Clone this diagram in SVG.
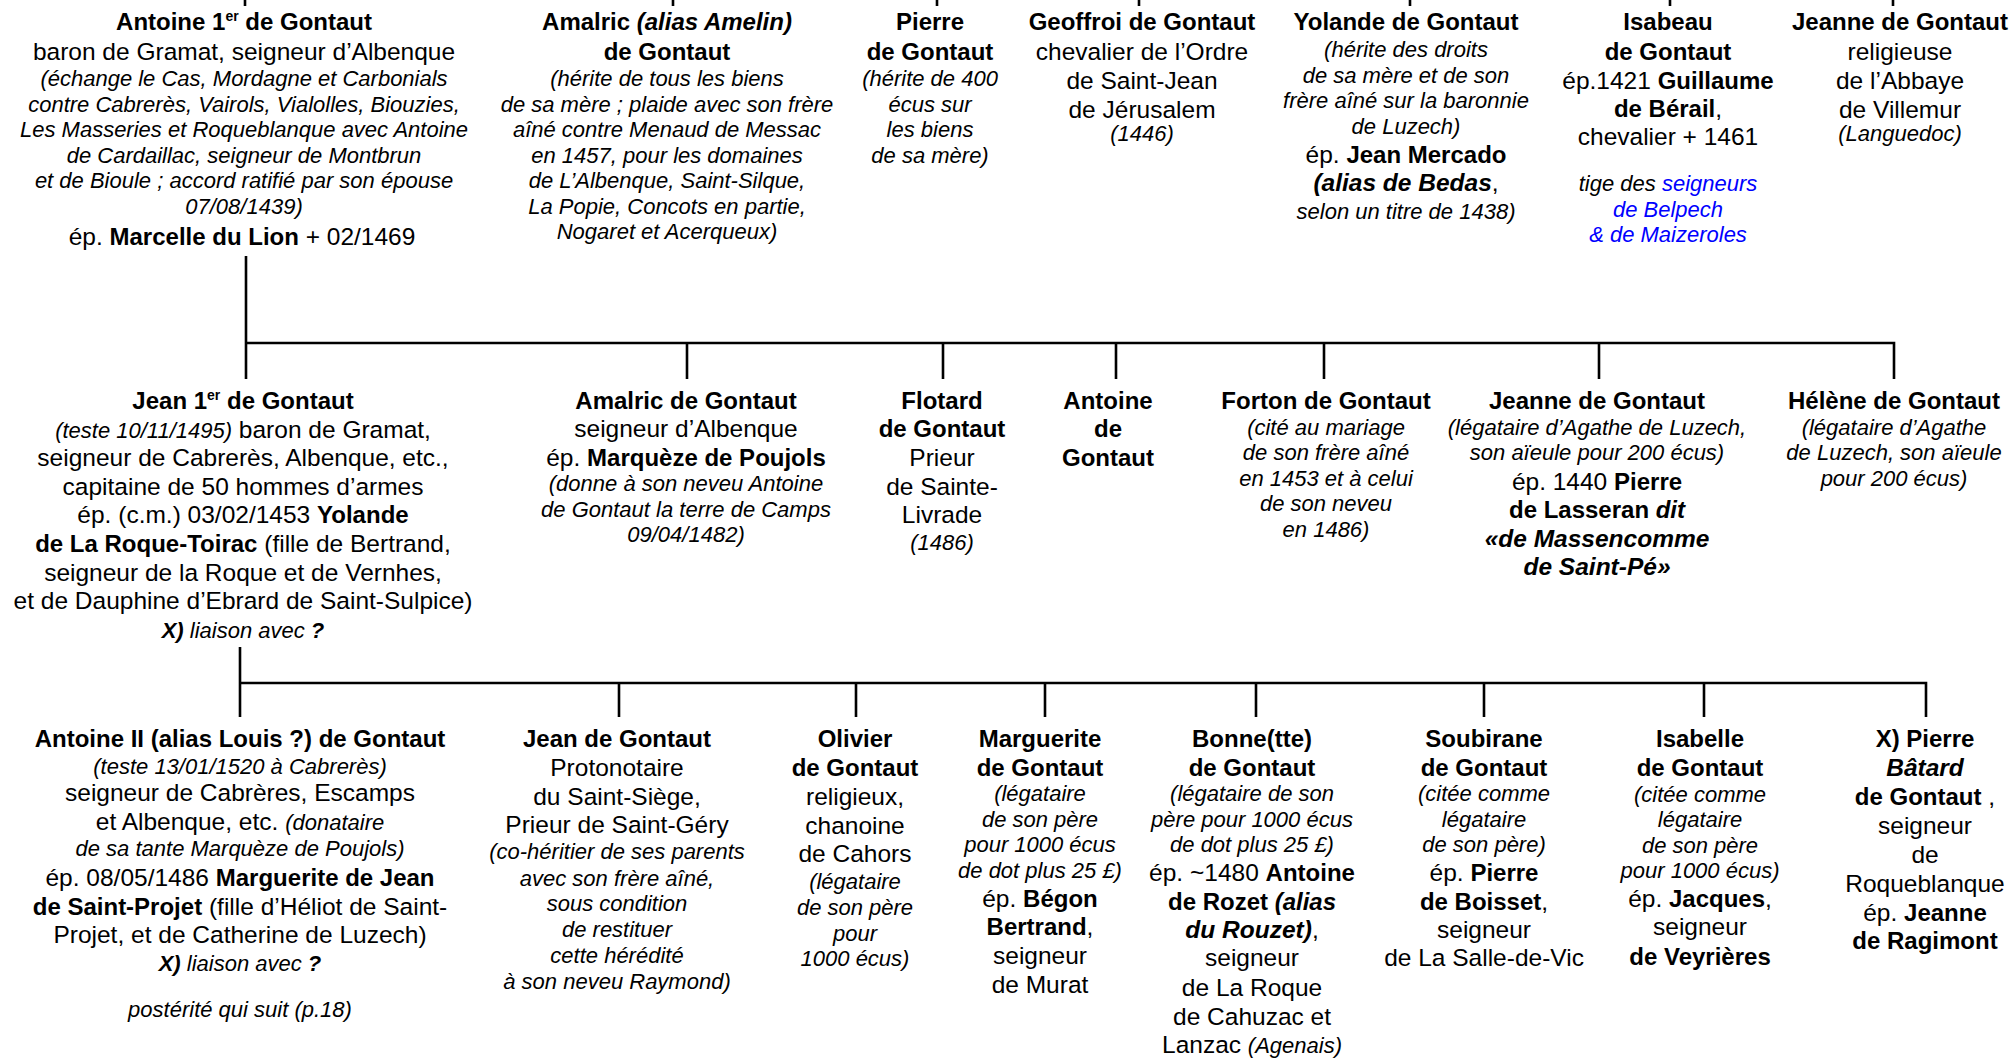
<svg xmlns="http://www.w3.org/2000/svg" width="2013" height="1058" viewBox="0 0 2013 1058">
<style>
text{font-family:"Liberation Sans",Arial,sans-serif;font-size:24.5px;text-anchor:middle;fill:#000}
.b{font-weight:700;font-size:24px}
.i{font-style:italic;font-size:22px}
.bi{font-weight:700;font-style:italic}
.blue{fill:#0000ff}
</style>
<rect width="2013" height="1058" fill="#fff"/>
<g id="connectors" stroke="#000" stroke-width="2.6" fill="none">
<path d="M245 0V6M673 0V6M937 0V6M1139 0V6M1410 0V6M1670 0V6M1893 0V6"/>
<path d="M246 256V379M246 343H1894V379M687 343V379M943 343V379M1116 343V379M1324 343V379M1599 343V379"/>
<path d="M240 647V717M240 683H1926V717M619 683V717M856 683V717M1045 683V717M1256 683V717M1484 683V717M1704 683V717"/>
</g>
<g id="n-antoine1" transform="translate(244 0)">
<text class="b" y="30">Antoine 1<tspan font-size="14" dy="-9">er</tspan><tspan dy="9"> de Gontaut</tspan></text>
<text y="60">baron de Gramat, seigneur d’Albenque</text>
<text class="i" y="86">(échange le Cas, Mordagne et Carbonials</text>
<text class="i" y="112">contre Cabrerès, Vairols, Vialolles, Biouzies,</text>
<text class="i" y="137">Les Masseries et Roqueblanque avec Antoine</text>
<text class="i" y="163">de Cardaillac, seigneur de Montbrun</text>
<text class="i" y="188">et de Bioule ; accord ratifié par son épouse</text>
<text class="i" y="214">07/08/1439)</text>
<text x="-2" y="245">ép. <tspan class="b">Marcelle du Lion</tspan> + 02/1469</text>
</g>
<g id="n-amalric-amelin" transform="translate(667 0)">
<text class="b" y="30">Amalric <tspan class="bi">(alias Amelin)</tspan></text>
<text class="b" y="60">de Gontaut</text>
<text class="i" y="86">(hérite de tous les biens</text>
<text class="i" y="112">de sa mère ; plaide avec son frère</text>
<text class="i" y="137">aîné contre Menaud de Messac</text>
<text class="i" y="163">en 1457, pour les domaines</text>
<text class="i" y="188">de L’Albenque, Saint-Silque,</text>
<text class="i" y="214">La Popie, Concots en partie,</text>
<text class="i" y="239">Nogaret et Acerqueux)</text>
</g>
<g id="n-pierre1" transform="translate(930 0)">
<text class="b" y="30">Pierre</text>
<text class="b" y="60">de Gontaut</text>
<text class="i" y="86">(hérite de 400</text>
<text class="i" y="112">écus sur</text>
<text class="i" y="137">les biens</text>
<text class="i" y="163">de sa mère)</text>
</g>
<g id="n-geoffroi" transform="translate(1142 0)">
<text class="b" y="30">Geoffroi de Gontaut</text>
<text y="60">chevalier de l’Ordre</text>
<text y="89">de Saint-Jean</text>
<text y="118">de Jérusalem</text>
<text class="i" y="141">(1446)</text>
</g>
<g id="n-yolande" transform="translate(1406 0)">
<text class="b" y="30">Yolande de Gontaut</text>
<text class="i" y="57">(hérite des droits</text>
<text class="i" y="83">de sa mère et de son</text>
<text class="i" y="108">frère aîné sur la baronnie</text>
<text class="i" y="134">de Luzech)</text>
<text y="163">ép. <tspan class="b">Jean Mercado</tspan></text>
<text y="191"><tspan class="bi">(alias de Bedas</tspan>,</text>
<text class="i" y="219">selon un titre de 1438)</text>
</g>
<g id="n-isabeau" transform="translate(1668 0)">
<text class="b" y="30">Isabeau</text>
<text class="b" y="60">de Gontaut</text>
<text y="89">ép.1421 <tspan class="b">Guillaume</tspan></text>
<text y="117"><tspan class="b">de Bérail</tspan>,</text>
<text y="145">chevalier + 1461</text>
<text class="i" y="191">tige des <tspan class="blue">seigneurs</tspan></text>
<text class="i blue" y="217">de Belpech</text>
<text class="i blue" y="242">&amp; de Maizeroles</text>
</g>
<g id="n-jeanne-religieuse" transform="translate(1900 0)">
<text class="b" y="30">Jeanne de Gontaut</text>
<text y="60">religieuse</text>
<text y="89">de l’Abbaye</text>
<text y="118">de Villemur</text>
<text class="i" y="141">(Languedoc)</text>
</g>
<g id="n-jean1" transform="translate(243 0)">
<text class="b" y="409">Jean 1<tspan font-size="14" dy="-9">er</tspan><tspan dy="9"> de Gontaut</tspan></text>
<text y="438"><tspan class="i">(teste 10/11/1495)</tspan> baron de Gramat,</text>
<text y="466">seigneur de Cabrerès, Albenque, etc.,</text>
<text y="495">capitaine de 50 hommes d’armes</text>
<text y="523">ép. (c.m.) 03/02/1453 <tspan class="b">Yolande</tspan></text>
<text y="552"><tspan class="b">de La Roque-Toirac</tspan> (fille de Bertrand,</text>
<text y="581">seigneur de la Roque et de Vernhes,</text>
<text y="609">et de Dauphine d’Ebrard de Saint-Sulpice)</text>
<text class="i" y="638"><tspan class="bi">X)</tspan> liaison avec <tspan class="bi">?</tspan></text>
</g>
<g id="n-amalric" transform="translate(686 0)">
<text class="b" y="409">Amalric de Gontaut</text>
<text y="437">seigneur d’Albenque</text>
<text y="466">ép. <tspan class="b">Marquèze de Poujols</tspan></text>
<text class="i" y="491">(donne à son neveu Antoine</text>
<text class="i" y="517">de Gontaut la terre de Camps</text>
<text class="i" y="542">09/04/1482)</text>
</g>
<g id="n-flotard" transform="translate(942 0)">
<text class="b" y="409">Flotard</text>
<text class="b" y="437">de Gontaut</text>
<text y="466">Prieur</text>
<text y="495">de Sainte-</text>
<text y="523">Livrade</text>
<text class="i" y="550">(1486)</text>
</g>
<g id="n-antoine" transform="translate(1108 0)">
<text class="b" y="409">Antoine</text>
<text class="b" y="437">de</text>
<text class="b" y="466">Gontaut</text>
</g>
<g id="n-forton" transform="translate(1326 0)">
<text class="b" y="409">Forton de Gontaut</text>
<text class="i" y="435">(cité au mariage</text>
<text class="i" y="460">de son frère aîné</text>
<text class="i" y="486">en 1453 et à celui</text>
<text class="i" y="511">de son neveu</text>
<text class="i" y="537">en 1486)</text>
</g>
<g id="n-jeanne" transform="translate(1597 0)">
<text class="b" y="409">Jeanne de Gontaut</text>
<text class="i" y="435">(légataire d’Agathe de Luzech,</text>
<text class="i" y="460">son aïeule pour 200 écus)</text>
<text y="490">ép. 1440 <tspan class="b">Pierre</tspan></text>
<text class="b" y="518">de Lasseran <tspan class="bi">dit</tspan></text>
<text class="bi" y="547">«de Massencomme</text>
<text class="bi" y="575">de Saint-Pé»</text>
</g>
<g id="n-helene" transform="translate(1894 0)">
<text class="b" y="409">Hélène de Gontaut</text>
<text class="i" y="435">(légataire d’Agathe</text>
<text class="i" y="460">de Luzech, son aïeule</text>
<text class="i" y="486">pour 200 écus)</text>
</g>
<g id="n-antoine2" transform="translate(240 0)">
<text class="b" y="747">Antoine II (alias Louis ?) de Gontaut</text>
<text class="i" y="774">(teste 13/01/1520 à Cabrerès)</text>
<text y="801">seigneur de Cabrères, Escamps</text>
<text y="830">et Albenque, etc. <tspan class="i">(donataire</tspan></text>
<text class="i" y="856">de sa tante Marquèze de Poujols)</text>
<text y="886">ép. 08/05/1486 <tspan class="b">Marguerite de Jean</tspan></text>
<text y="915"><tspan class="b">de Saint-Projet</tspan> (fille d’Héliot de Saint-</text>
<text y="943">Projet, et de Catherine de Luzech)</text>
<text class="i" y="971"><tspan class="bi">X)</tspan> liaison avec <tspan class="bi">?</tspan></text>
<text class="i" y="1017">postérité qui suit (p.18)</text>
</g>
<g id="n-jean" transform="translate(617 0)">
<text class="b" y="747">Jean de Gontaut</text>
<text y="776">Protonotaire</text>
<text y="805">du Saint-Siège,</text>
<text y="833">Prieur de Saint-Géry</text>
<text class="i" y="859">(co-héritier de ses parents</text>
<text class="i" y="886">avec son frère aîné,</text>
<text class="i" y="911">sous condition</text>
<text class="i" y="937">de restituer</text>
<text class="i" y="963">cette hérédité</text>
<text class="i" y="989">à son neveu Raymond)</text>
</g>
<g id="n-olivier" transform="translate(855 0)">
<text class="b" y="747">Olivier</text>
<text class="b" y="776">de Gontaut</text>
<text y="805">religieux,</text>
<text y="834">chanoine</text>
<text y="862">de Cahors</text>
<text class="i" y="889">(légataire</text>
<text class="i" y="915">de son père</text>
<text class="i" y="941">pour</text>
<text class="i" y="966">1000 écus)</text>
</g>
<g id="n-marguerite" transform="translate(1040 0)">
<text class="b" y="747">Marguerite</text>
<text class="b" y="776">de Gontaut</text>
<text class="i" y="801">(légataire</text>
<text class="i" y="827">de son père</text>
<text class="i" y="852">pour 1000 écus</text>
<text class="i" y="878">de dot plus 25 £)</text>
<text y="907">ép. <tspan class="b">Bégon</tspan></text>
<text y="935"><tspan class="b">Bertrand</tspan>,</text>
<text y="964">seigneur</text>
<text y="993">de Murat</text>
</g>
<g id="n-bonne" transform="translate(1252 0)">
<text class="b" y="747">Bonne(tte)</text>
<text class="b" y="776">de Gontaut</text>
<text class="i" y="801">(légataire de son</text>
<text class="i" y="827">père pour 1000 écus</text>
<text class="i" y="852">de dot plus 25 £)</text>
<text y="881">ép. ~1480 <tspan class="b">Antoine</tspan></text>
<text class="b" y="910">de Rozet <tspan class="bi">(alias</tspan></text>
<text y="938"><tspan class="bi">du Rouzet)</tspan>,</text>
<text y="966">seigneur</text>
<text y="996">de La Roque</text>
<text y="1025">de Cahuzac et</text>
<text y="1053">Lanzac <tspan class="i">(Agenais)</tspan></text>
</g>
<g id="n-soubirane" transform="translate(1484 0)">
<text class="b" y="747">Soubirane</text>
<text class="b" y="776">de Gontaut</text>
<text class="i" y="801">(citée comme</text>
<text class="i" y="827">légataire</text>
<text class="i" y="852">de son père)</text>
<text y="881">ép. <tspan class="b">Pierre</tspan></text>
<text y="910"><tspan class="b">de Boisset</tspan>,</text>
<text y="938">seigneur</text>
<text y="966">de La Salle-de-Vic</text>
</g>
<g id="n-isabelle" transform="translate(1700 0)">
<text class="b" y="747">Isabelle</text>
<text class="b" y="776">de Gontaut</text>
<text class="i" y="802">(citée comme</text>
<text class="i" y="827">légataire</text>
<text class="i" y="853">de son père</text>
<text class="i" y="878">pour 1000 écus)</text>
<text y="907">ép. <tspan class="b">Jacques</tspan>,</text>
<text y="935">seigneur</text>
<text class="b" y="965">de Veyrières</text>
</g>
<g id="n-pierre-batard" transform="translate(1925 0)">
<text class="b" y="747">X) Pierre</text>
<text class="bi" y="776">Bâtard</text>
<text y="805"><tspan class="b">de Gontaut</tspan> ,</text>
<text y="834">seigneur</text>
<text y="863">de</text>
<text y="892">Roqueblanque</text>
<text y="921">ép. <tspan class="b">Jeanne</tspan></text>
<text class="b" y="949">de Ragimont</text>
</g>
</svg>
